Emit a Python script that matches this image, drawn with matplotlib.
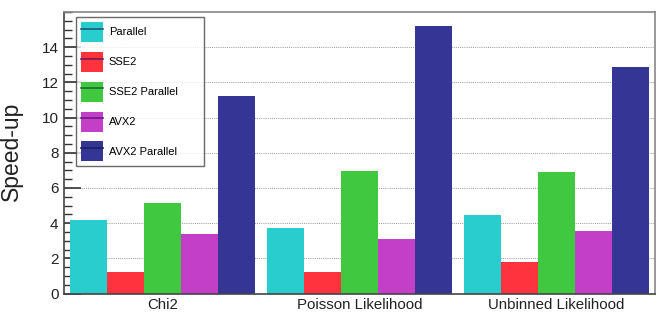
import matplotlib
matplotlib.use("Agg")
import matplotlib.pyplot as plt
from matplotlib.patches import Patch
from matplotlib.lines import Line2D
from matplotlib.ticker import MultipleLocator
from matplotlib.legend_handler import HandlerTuple
import numpy as np

plt.rcParams['font.family'] = ['Liberation Sans', 'DejaVu Sans']

categories = ["Chi2", "Poisson Likelihood", "Unbinned Likelihood"]
series_names = ["Parallel", "SSE2", "SSE2 Parallel", "AVX2", "AVX2 Parallel"]
parallel = [4.16, 3.71, 4.45]
sse2 = [1.24, 1.25, 1.80]
sse2_parallel = [5.15, 6.95, 6.91]
avx2 = [3.37, 3.08, 3.56]
avx2_parallel = [11.2, 15.2, 12.88]
series_values = [parallel, sse2, sse2_parallel, avx2, avx2_parallel]

colors = ['#29CDCD', '#FF333D', '#40C840', '#C43FC8', '#343594']
line_colors = ['#1A5E80', '#7A1A50', '#1E6A30', '#6A1A80', '#1E1E60']

W, H = 662, 316
fig = plt.figure(figsize=(W / 100, H / 100), dpi=100)
L, R, T, B = 64, 655, 12, 293.5
ax = fig.add_axes([L / W, 1 - B / H, (R - L) / W, (B - T) / H])

bar_w = 0.188
offset = 0.03
x0 = np.arange(len(categories))
for j, (name, vals) in enumerate(zip(series_names, series_values)):
    ax.bar(x0 + offset + j * bar_w, vals, width=bar_w, align='edge',
           color=colors[j], edgecolor='none', zorder=2)

ax.set_xlim(0, len(categories))
ax.set_ylim(0, 16)
ax.set_xticks(x0 + 0.5)
ax.set_xticklabels(categories, fontsize=10.8, color='#222222')
ax.tick_params(axis='x', length=0, pad=3)

ax.yaxis.set_major_locator(MultipleLocator(2))
ax.yaxis.set_minor_locator(MultipleLocator(0.5))
ax.set_yticks(np.arange(0, 16, 2))
ax.tick_params(axis='y', which='major', direction='in', length=12, width=1.2,
               color='#333333', labelsize=11, pad=4, labelcolor='#222222')
ax.tick_params(axis='y', which='minor', direction='in', length=6, width=1.0,
               color='#333333')

for yv in range(2, 16, 2):
    ax.axhline(yv, color='#999999', linestyle=(0, (1, 1.2)), linewidth=0.7, zorder=1)

for side in ['top', 'right']:
    ax.spines[side].set_color('#888888')
    ax.spines[side].set_linewidth(1.2)
ax.spines['left'].set_color('#444444')
ax.spines['bottom'].set_color('#444444')
ax.spines['left'].set_linewidth(1.2)
ax.spines['bottom'].set_linewidth(1.2)

handles = []
for c, lc in zip(colors, line_colors):
    handles.append((Patch(facecolor=c, edgecolor='none'),
                    Line2D([], [], color=lc, linewidth=1.2)))
ax_w, ax_h = (R - L), (B - T)
leg = ax.legend(handles, series_names, loc='upper left', mode='expand',
                bbox_to_anchor=((76 - L) / ax_w, (B - 17) / ax_h - 0.01,
                                (204 - 76) / ax_w, 0.01),
                borderaxespad=0, fontsize=8, frameon=True, fancybox=False,
                handlelength=2.0, handleheight=2.4, labelspacing=0.88,
                handletextpad=0.5, borderpad=0.45,
                handler_map={tuple: HandlerTuple(ndivide=1)})
leg.get_frame().set_edgecolor('#444444')
leg.get_frame().set_linewidth(1.0)
leg.set_zorder(5)

fig.text(11 / W, 0.52, "Speed-up", rotation=90, ha='center', va='center',
         fontsize=16.5, color='#222222')

fig.savefig("out.png", dpi=100)
